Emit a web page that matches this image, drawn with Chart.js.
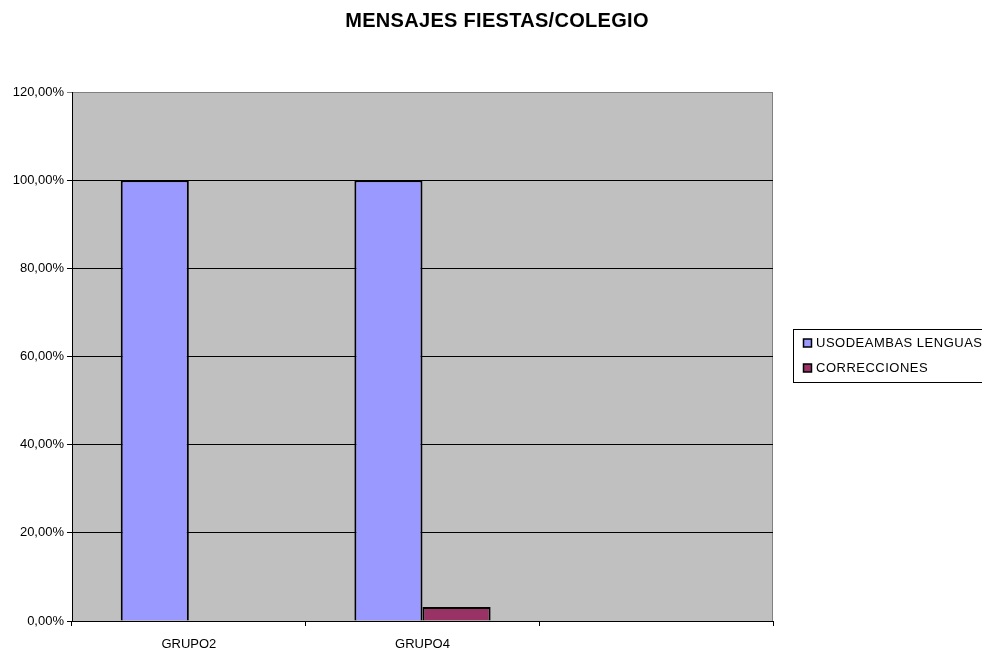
<!DOCTYPE html>
<html>
<head>
<meta charset="utf-8">
<script src="https://cdn.jsdelivr.net/npm/chart.js@4"></script>
<style>
  html, body { margin: 0; padding: 0; background: #fff; }
  #wrap { width: 982px; height: 651px; position: relative; }
</style>
</head>
<body>
<div id="wrap"><canvas id="chart"></canvas></div>
<script>
// ── Data ──────────────────────────────────────────────────────────────────────
const categories   = ['GRUPO2', 'GRUPO4', ''];
const usoAmbas     = [100, 100, null];
const correcciones = [0, 3.2, null];
const seriesNames  = ['USODEAMBAS LENGUAS', 'CORRECCIONES'];
const titleText    = 'MENSAJES FIESTAS/COLEGIO';

const FONT = 'Arial, "Liberation Sans", sans-serif';
const fmtPct = v => Number(v).toFixed(2).replace('.', ',') + '%';

// plot-area background + frame
const plotBg = {
  id: 'plotBg',
  beforeDraw(chart) {
    const { ctx, chartArea: a } = chart;
    ctx.save();
    ctx.fillStyle = '#C0C0C0';
    ctx.fillRect(a.left, a.top, a.right - a.left, a.bottom - a.top);
    ctx.strokeStyle = '#808080';
    ctx.lineWidth = 1;
    ctx.beginPath();
    ctx.moveTo(a.left, a.top + 0.5);
    ctx.lineTo(a.right - 0.5, a.top + 0.5);
    ctx.lineTo(a.right - 0.5, a.bottom);
    ctx.stroke();
    ctx.restore();
  }
};

// title + legend drawn in Excel position
const decor = {
  id: 'decor',
  afterDraw(chart) {
    const { ctx } = chart;
    ctx.save();
    ctx.fillStyle = '#000';
    ctx.font = 'bold 20px ' + FONT;
    ctx.letterSpacing = '0.3px';
    ctx.textAlign = 'center';
    ctx.textBaseline = 'middle';
    ctx.fillText(titleText, 497, 21);

    // legend box
    ctx.strokeStyle = '#000';
    ctx.lineWidth = 1;
    ctx.strokeRect(793.5, 329.5, 200, 53);
    ctx.font = '13px ' + FONT;
    ctx.letterSpacing = '0.5px';
    ctx.textAlign = 'left';
    chart.data.datasets.forEach((ds, i) => {
      const y = 343 + i * 25;
      ctx.fillStyle = ds.backgroundColor;
      ctx.fillRect(803.5, y - 4, 8, 8);
      ctx.strokeStyle = '#000';
      ctx.lineWidth = 1.5;
      ctx.strokeRect(803.5, y - 4, 8, 8);
      ctx.fillStyle = '#000';
      ctx.fillText(ds.label, 816, y);
    });
    ctx.restore();
  }
};

new Chart(document.getElementById('chart'), {
  type: 'bar',
  data: {
    labels: categories,
    datasets: [
      { label: seriesNames[0], data: usoAmbas, backgroundColor: '#9999FF', borderColor: '#000', borderWidth: 2 },
      { label: seriesNames[1], data: correcciones, backgroundColor: '#993366', borderColor: '#000', borderWidth: 2 }
    ]
  },
  plugins: [plotBg, decor],
  options: {
    responsive: true, maintainAspectRatio: false, animation: false,
    layout: { padding: { top: 92, right: 209, bottom: 0, left: 0 } },
    datasets: { bar: { categoryPercentage: 0.583, barPercentage: 1 } },
    plugins: { legend: { display: false }, title: { display: false }, tooltip: { enabled: false } },
    scales: {
      x: {
        grid: { drawOnChartArea: false, drawTicks: true, tickLength: 5, color: '#000', offset: true },
        border: { color: '#000', width: 1 },
        ticks: { color: '#000', font: { family: FONT, size: 13 }, padding: 11 },
        afterFit: s => { s.height = 30; }
      },
      y: {
        min: 0, max: 120,
        grid: { color: ctx => ctx.tick && ctx.tick.value === 120 ? '#808080' : '#000', tickLength: 5 },
        border: { color: '#000', width: 1 },
        ticks: { stepSize: 20, color: '#000', font: { family: FONT, size: 13 }, padding: 3, callback: v => fmtPct(v) },
        afterFit: s => { s.width = 72; }
      }
    }
  }
});
</script>
</body>
</html>
